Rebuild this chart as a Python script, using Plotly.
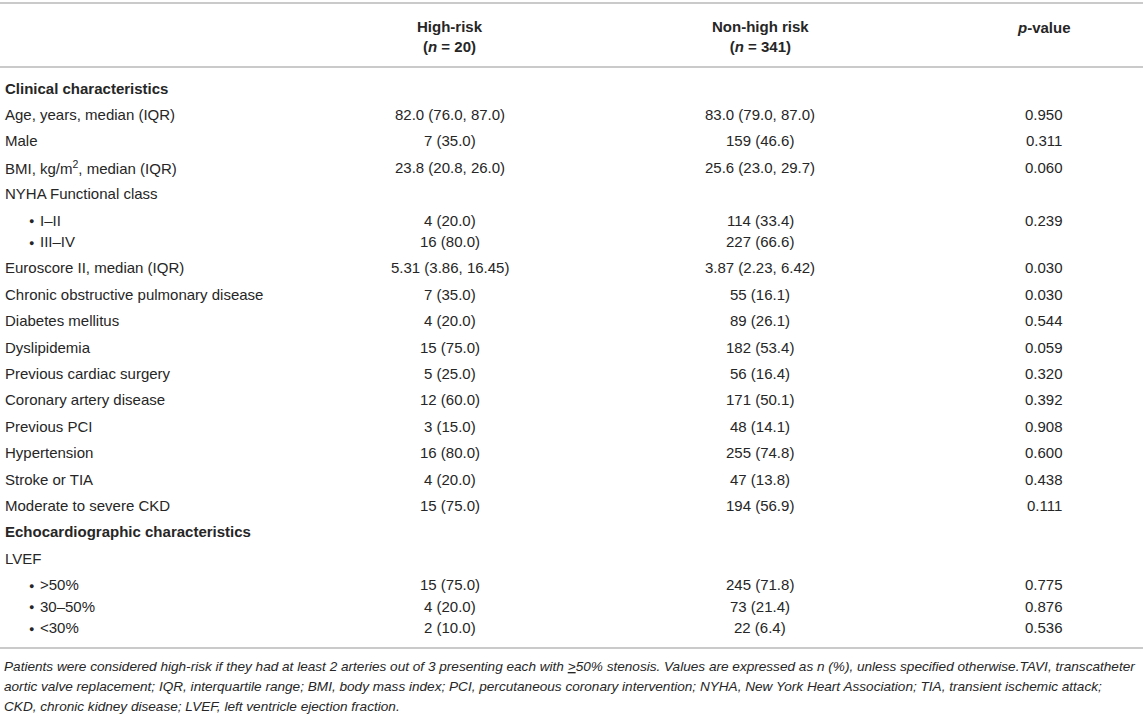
import plotly.graph_objects as go

# table content
labels = [
    "Clinical characteristics",
    "Age, years, median (IQR)",
    "Male",
    "BMI, kg/m<sup>2</sup>, median (IQR)",
    "NYHA Functional class",
    "I–II",
    "III–IV",
    "Euroscore II, median (IQR)",
    "Chronic obstructive pulmonary disease",
    "Diabetes mellitus",
    "Dyslipidemia",
    "Previous cardiac surgery",
    "Coronary artery disease",
    "Previous PCI",
    "Hypertension",
    "Stroke or TIA",
    "Moderate to severe CKD",
    "Echocardiographic characteristics",
    "LVEF",
    "&gt;50%",
    "30–50%",
    "&lt;30%",
]
row_kind = ["section", "row", "row", "row", "row", "bullet", "bullet", "row", "row", "row",
            "row", "row", "row", "row", "row", "row", "row", "section", "row",
            "bullet", "bullet", "bullet"]
high_risk = ["", "82.0 (76.0, 87.0)", "7 (35.0)", "23.8 (20.8, 26.0)", "", "4 (20.0)", "16 (80.0)",
             "5.31 (3.86, 16.45)", "7 (35.0)", "4 (20.0)", "15 (75.0)", "5 (25.0)", "12 (60.0)",
             "3 (15.0)", "16 (80.0)", "4 (20.0)", "15 (75.0)", "", "", "15 (75.0)", "4 (20.0)",
             "2 (10.0)"]
non_high_risk = ["", "83.0 (79.0, 87.0)", "159 (46.6)", "25.6 (23.0, 29.7)", "", "114 (33.4)",
                 "227 (66.6)", "3.87 (2.23, 6.42)", "55 (16.1)", "89 (26.1)", "182 (53.4)",
                 "56 (16.4)", "171 (50.1)", "48 (14.1)", "255 (74.8)", "47 (13.8)", "194 (56.9)",
                 "", "", "245 (71.8)", "73 (21.4)", "22 (6.4)"]
p_values = ["", "0.950", "0.311", "0.060", "", "0.239", "", "0.030", "0.030", "0.544", "0.059",
            "0.320", "0.392", "0.908", "0.600", "0.438", "0.111", "", "", "0.775", "0.876",
            "0.536"]
headers = ["", "<b>High-risk</b><br><b>(<i>n</i> = 20)</b>",
           "<b>Non-high risk</b><br><b>(<i>n</i> = 341)</b>", "<b><i>p</i>-value</b>"]
footnote = [
    "Patients were considered high-risk if they had at least 2 arteries out of 3 presenting each with "
    "<u>&gt;</u>50% stenosis. Values are expressed as n (%), unless specified otherwise.TAVI, transcatheter",
    "aortic valve replacement; IQR, interquartile range; BMI, body mass index; PCI, percutaneous "
    "coronary intervention; NYHA, New York Heart Association; TIA, transient ischemic attack;",
    "CKD, chronic kidney disease; LVEF, left ventricle ejection fraction.",
]

W, H = 1143, 716
FONT = "Liberation Sans, Arial, sans-serif"
TXT = "#262626"
RULE = "#b9b9b9"
FS = 15
col_x = [3, 450, 760, 1044]

fig = go.Figure()
ann = []
shapes = []

# header
for c, h in zip(col_x[1:3], headers[1:3]):
    ann.append(dict(x=c, y=36, text=h, showarrow=False, xanchor="center", yanchor="middle",
                    align="center", font=dict(size=FS, color=TXT)))
ann.append(dict(x=col_x[3], y=27, text=headers[3], showarrow=False, xanchor="center",
                yanchor="middle", font=dict(size=FS, color=TXT)))

# body rows
y = 88
prev = None
for i, lab in enumerate(labels):
    kind = row_kind[i]
    if prev is not None:
        y += 21.5 if (kind == "bullet" and prev == "bullet") else 26.4
    prev = kind
    if kind == "section":
        ann.append(dict(x=col_x[0], y=y, text="<b>" + lab + "</b>", showarrow=False,
                        xanchor="left", yanchor="middle", font=dict(size=FS, color=TXT)))
        continue
    if kind == "bullet":
        ann.append(dict(x=27, y=y + 1, text="●", showarrow=False, xanchor="left", yanchor="middle",
                        font=dict(size=9, color=TXT)))
        ann.append(dict(x=38, y=y, text=lab, showarrow=False, xanchor="left", yanchor="middle",
                        font=dict(size=FS, color=TXT)))
    else:
        ann.append(dict(x=col_x[0], y=y, text=lab, showarrow=False, xanchor="left",
                        yanchor="middle", font=dict(size=FS, color=TXT)))
    for c, vals in zip(col_x[1:], [high_risk, non_high_risk, p_values]):
        if vals[i]:
            ann.append(dict(x=c, y=y, text=vals[i], showarrow=False, xanchor="center",
                            yanchor="middle", font=dict(size=FS, color=TXT)))

# rules
for ry in [3, 67, 648]:
    shapes.append(dict(type="line", x0=0, x1=W, y0=ry, y1=ry, xref="x", yref="y",
                       line=dict(color=RULE, width=1.6)))

# footnote
for k, line in enumerate(footnote):
    ann.append(dict(x=2, y=666 + k * 20, text="<i>" + line + "</i>", showarrow=False,
                    xanchor="left", yanchor="middle", font=dict(size=13.6, color=TXT)))

fig.update_layout(
    width=W, height=H,
    margin=dict(l=0, r=0, t=0, b=0),
    paper_bgcolor="white", plot_bgcolor="white",
    font=dict(family=FONT, color=TXT),
    xaxis=dict(range=[0, W], visible=False, fixedrange=True),
    yaxis=dict(range=[H, 0], visible=False, fixedrange=True),
    annotations=ann,
    shapes=shapes,
    showlegend=False,
)

fig.write_html("out.html", config={"displayModeBar": False},
               post_script="document.body.style.margin='0';document.body.style.overflow='hidden';")
